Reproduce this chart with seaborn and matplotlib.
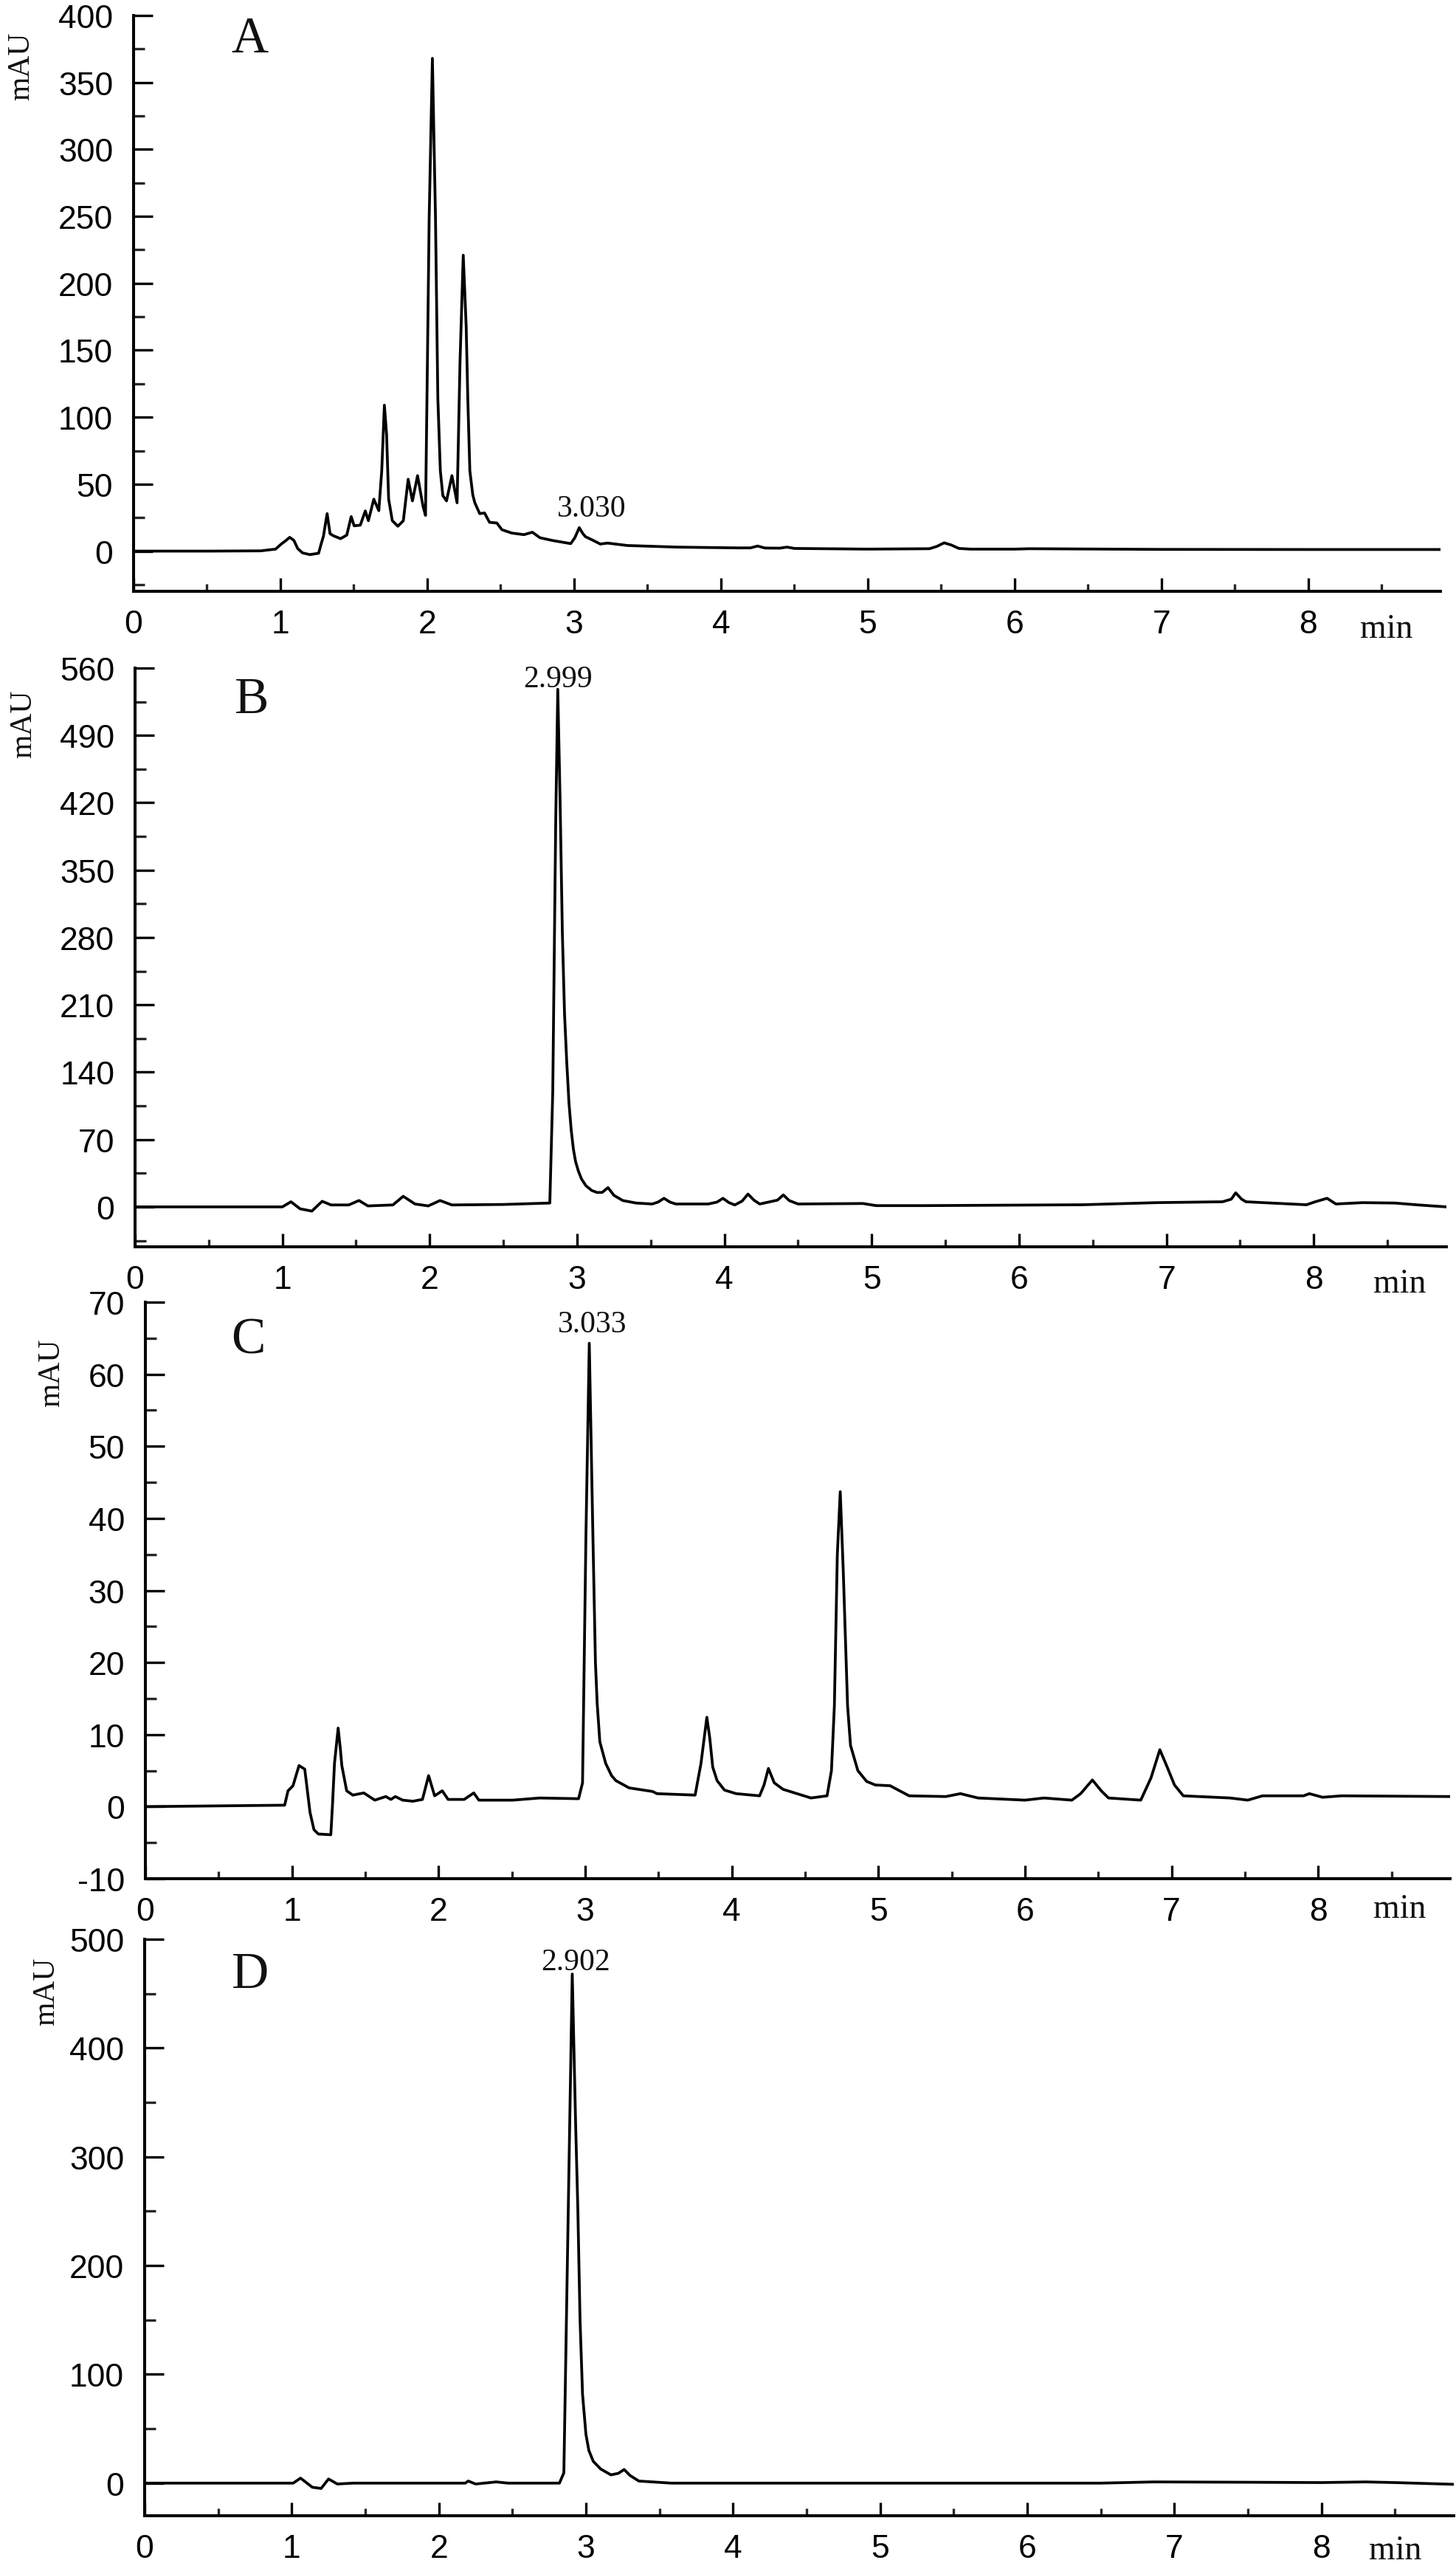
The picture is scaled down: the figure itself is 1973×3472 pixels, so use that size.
import numpy as np
import pandas as pd
import matplotlib
matplotlib.use('Agg')
import matplotlib.pyplot as plt
from matplotlib.ticker import MultipleLocator
import seaborn as sns

# chromatogram A (time in min, signal in mAU)
a_time = [0.0, 0.50, 0.866, 0.967, 1.008, 1.033, 1.063, 1.092, 1.117, 1.15, 1.20, 1.26,
          1.276, 1.293, 1.318, 1.338, 1.36, 1.41, 1.452, 1.482, 1.502, 1.544, 1.578, 1.599,
          1.636, 1.670, 1.69, 1.708, 1.723, 1.737, 1.762, 1.80, 1.837, 1.87, 1.899, 1.934,
          1.971, 1.988, 2.001, 2.013, 2.035, 2.056, 2.072, 2.089, 2.106, 2.131, 2.168, 2.203,
          2.223, 2.245, 2.265, 2.276, 2.290, 2.31, 2.324, 2.357, 2.39, 2.424, 2.474, 2.508,
          2.575, 2.658, 2.716, 2.767, 2.85, 2.977, 3.005, 3.035, 3.06, 3.077, 3.13, 3.178,
          3.228, 3.362, 3.697, 4.116, 4.20, 4.25, 4.30, 4.40, 4.45, 4.50, 5.0, 5.42, 5.47,
          5.52, 5.57, 5.62, 5.70, 6.0, 6.1, 7.0, 8.0, 8.9]
a_mau = [0.0, 0.0, 0.2, 1.5, 5.5, 7.5, 10.3, 8.0, 2.0, -1.3, -2.6, -1.6,
         4.8, 11.2, 28.0, 13.0, 11.5, 9.3, 12.0, 25.8, 18.9, 19.4, 30.0, 22.7,
         38.8, 30.2, 60.0, 109.0, 87.0, 38.8, 22.7, 18.6, 22.7, 53.7, 37.5, 56.4,
         33.5, 26.7, 141.0, 249.0, 368.0, 249.0, 114.0, 60.0, 41.5, 37.5, 56.4, 36.1,
         141.0, 221.0, 168.0, 114.0, 60.0, 42.0, 36.1, 28.0, 28.5, 21.5, 21.0, 16.0,
         13.5, 12.3, 14.1, 10.0, 8.0, 5.6, 10.0, 17.5, 13.0, 10.8, 8.0, 5.3,
         6.0, 4.2, 3.0, 2.4, 2.4, 3.8, 2.3, 2.2, 3.0, 2.0, 1.5, 1.8, 3.5,
         6.2, 4.5, 2.0, 1.5, 1.5, 1.8, 1.3, 1.2, 1.2]

# chromatogram B
b_time = [0.0, 1.0, 1.058, 1.12, 1.2, 1.27, 1.33, 1.45, 1.52, 1.58, 1.75, 1.82, 1.90,
          1.99, 2.07, 2.15, 2.5, 2.815, 2.835, 2.855, 2.869, 2.885, 2.90, 2.915, 2.93,
          2.945, 2.96, 2.975, 2.99, 3.008, 3.03, 3.06, 3.10, 3.135, 3.17, 3.21, 3.25, 3.31,
          3.40, 3.51, 3.55, 3.59, 3.63, 3.67, 3.89, 3.95, 3.99, 4.03, 4.07, 4.12, 4.16,
          4.20, 4.24, 4.36, 4.40, 4.44, 4.50, 4.94, 5.03, 5.35, 6.43, 6.93, 7.38, 7.44,
          7.47, 7.51, 7.54, 7.95, 8.01, 8.09, 8.15, 8.33, 8.55, 8.71, 8.9]
b_mau = [0.0, 0.0, 5.3, -2.0, -4.4, 5.8, 2.0, 2.0, 6.6, 1.0, 2.0, 11.0, 3.0,
         1.0, 6.6, 2.0, 2.5, 4.0, 120.0, 400.0, 538.0, 420.0, 285.0, 200.0, 150.0,
         108.0, 80.0, 60.0, 47.0, 37.6, 29.0, 22.0, 17.0, 15.0, 15.0, 20.0, 12.0, 6.6,
         4.0, 3.0, 5.0, 8.9, 5.0, 3.0, 3.0, 5.0, 8.9, 4.5, 2.0, 6.0, 13.3,
         7.0, 3.0, 7.0, 12.4, 6.5, 3.0, 3.5, 1.3, 1.3, 2.2, 4.4, 5.3, 8.0,
         14.6, 8.0, 5.3, 2.2, 5.3, 8.9, 3.0, 4.4, 4.0, 2.0, 0.0]

# chromatogram C
c_time = [0.0, 0.95, 0.973, 1.007, 1.048, 1.087, 1.098, 1.123, 1.15, 1.18, 1.265, 1.277,
          1.29, 1.315, 1.33, 1.34, 1.373, 1.415, 1.49, 1.565, 1.64, 1.675, 1.705, 1.755,
          1.825, 1.89, 1.932, 1.973, 2.025, 2.065, 2.175, 2.24, 2.275, 2.505, 2.69, 2.955,
          2.982, 3.005, 3.028, 3.053, 3.07, 3.082, 3.10, 3.14, 3.18, 3.21, 3.30, 3.46, 3.49,
          3.75, 3.79, 3.83, 3.85, 3.87, 3.90, 3.95, 4.03, 4.19, 4.22, 4.25, 4.29, 4.35,
          4.54, 4.65, 4.68, 4.70, 4.72, 4.74, 4.76, 4.79, 4.81, 4.86, 4.92, 4.98, 5.08,
          5.21, 5.46, 5.56, 5.68, 6.0, 6.13, 6.32, 6.38, 6.46, 6.52, 6.57, 6.79, 6.86,
          6.92, 6.97, 7.02, 7.08, 7.40, 7.52, 7.62, 7.90, 7.94, 8.03, 8.16, 8.9]
c_mau = [0.0, 0.2, 2.2, 2.9, 5.7, 5.2, 3.4, -0.8, -3.2, -3.8, -3.9, 0.5,
         6.0, 10.9, 8.0, 5.7, 2.2, 1.6, 1.9, 0.9, 1.4, 1.0, 1.4, 0.9,
         0.75, 1.0, 4.3, 1.5, 2.2, 1.0, 1.0, 1.9, 0.9, 0.9, 1.2, 1.1,
         3.3, 37.3, 64.3, 37.3, 20.0, 14.3, 9.0, 6.0, 4.3, 3.6, 2.6, 2.1, 1.8,
         1.6, 6.0, 12.4, 9.5, 5.5, 3.6, 2.3, 1.8, 1.5, 3.0, 5.3, 3.3, 2.4,
         1.2, 1.5, 5.0, 14.0, 35.0, 43.7, 33.0, 14.0, 8.5, 5.0, 3.5, 3.0, 2.9,
         1.5, 1.4, 1.8, 1.2, 0.9, 1.2, 0.9, 1.8, 3.7, 2.2, 1.2, 0.9, 4.0,
         7.9, 5.5, 3.0, 1.5, 1.2, 0.9, 1.5, 1.5, 1.8, 1.3, 1.5, 1.4]

# chromatogram D
d_time = [0.0, 1.01, 1.06, 1.14, 1.20, 1.25, 1.31, 1.42, 2.18, 2.20, 2.25, 2.39, 2.47,
          2.82, 2.85, 2.88, 2.907, 2.93, 2.945, 2.96, 2.977, 3.0, 3.02, 3.05, 3.10, 3.17,
          3.22, 3.26, 3.30, 3.36, 3.58, 5.0, 6.5, 6.86, 7.5, 8.0, 8.30, 8.5, 8.9]
d_mau = [0.0, 0.0, 4.6, -3.8, -4.9, 3.8, -0.8, 0.0, 0.0, 1.9, -0.8, 1.1, 0.0,
         0.0, 9.5, 252.0, 468.0, 330.0, 252.0, 150.0, 81.6, 45.0, 30.0, 20.0, 13.0, 7.6,
         9.0, 12.5, 7.0, 1.9, 0.0, 0.0, 0.0, 1.1, 0.8, 0.5, 1.1, 0.5, -1.1]

panel_names = ['A', 'B', 'C', 'D']
peak_labels = ['3.030', '2.999', '3.033', '2.902']
peak_label_pos = [(3.12, 31.9), (2.87, 549), (3.05, 67), (2.93, 479)]
letter_pos = [(0.79, 382), (0.79, 527), (0.70, 64.7), (0.72, 467)]
y_limits = [(-30, 400), (-41.5, 560), (-10, 70), (-30, 500)]
y_major = [50, 70, 10, 100]
x_ticks = [0, 1, 2, 3, 4, 5, 6, 7, 8]

# axes boxes in pixels: left, right, top, bottom
boxes = [(181, 1952, 22, 802), (183, 1960, 906, 1690),
         (197, 1965, 1765, 2546), (196, 1970, 2628, 3409)]
mau_pos = [(29, 90), (32, 981), (70, 1860), (63, 2698)]
min_pos = [(1879, 853), (1897, 1740), (1897, 2587), (1891, 3456)]

W, H = 1973, 3473
sns.set_theme(style='ticks')
plt.rcParams['font.family'] = ['Liberation Sans', 'DejaVu Sans']
plt.rcParams['axes.unicode_minus'] = False
plt.rcParams['axes.linewidth'] = 2.9

fig = plt.figure(figsize=(W / 100, H / 100), dpi=100)
fig.patch.set_facecolor('white')

traces = [(a_time, a_mau), (b_time, b_mau), (c_time, c_mau), (d_time, d_mau)]

for i, (t, v) in enumerate(traces):
    l, r, top, bot = boxes[i]
    ax = fig.add_axes([l / W, 1 - bot / H, (r - l) / W, (bot - top) / H])
    df = pd.DataFrame({'time': t, 'mAU': v})
    sns.lineplot(data=df, x='time', y='mAU', ax=ax, color='black', linewidth=2.7,
                 estimator=None, sort=False)
    ax.set_xlim(0, 8.9)
    ax.set_ylim(*y_limits[i])
    ax.set_xlabel('')
    ax.set_ylabel('')
    ax.set_facecolor('white')
    for s in ['top', 'right']:
        ax.spines[s].set_visible(False)
    for s in ['left', 'bottom']:
        ax.spines[s].set_color('black')
        ax.spines[s].set_linewidth(2.9)
    ax.set_xticks(x_ticks)
    ax.xaxis.set_minor_locator(MultipleLocator(0.5))
    ax.yaxis.set_major_locator(MultipleLocator(y_major[i]))
    ax.yaxis.set_minor_locator(MultipleLocator(y_major[i] / 2))
    ax.tick_params(axis='x', which='major', direction='in', length=13, width=2.4,
                   pad=17, labelsize=32, colors='black')
    ax.tick_params(axis='x', which='minor', direction='in', length=7, width=2.4)
    ax.tick_params(axis='y', which='major', direction='in', length=19, width=2.4,
                   pad=20, labelsize=32, colors='black')
    ax.tick_params(axis='y', which='minor', direction='in', length=11, width=2.4)
    ax.grid(False)

    lx, ly = letter_pos[i]
    ax.text(lx, ly, panel_names[i], ha='center', va='center', fontsize=50,
            family='Liberation Serif', color='#111111')
    px, py = peak_label_pos[i]
    ax.text(px, py, peak_labels[i], ha='center', va='center', fontsize=30,
            family='Liberation Serif', color='#111111')

    mx, my = mau_pos[i]
    fig.text(mx / W, 1 - my / H, 'mAU', rotation=90, ha='center', va='center',
             fontsize=30, family='Liberation Serif', color='#111111')
    nx, ny = min_pos[i]
    fig.text(nx / W, 1 - ny / H, 'min', ha='center', va='center',
             fontsize=33, family='Liberation Serif', color='#111111')

fig.savefig('out.png', dpi=100, facecolor='white')
